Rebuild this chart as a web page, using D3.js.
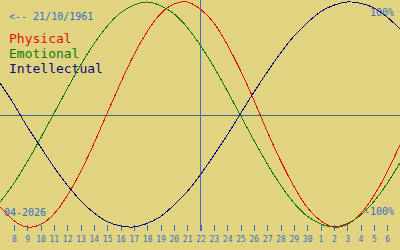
<!DOCTYPE html>
<html>
<head>
<meta charset="utf-8">
<script src="https://cdn.jsdelivr.net/npm/d3@7"></script>
<style>
  html, body { margin: 0; padding: 0; background: #e1d380; }
  svg { display: block; }
  text { font-family: "DejaVu Sans Mono", monospace; }
</style>
</head>
<body>
<svg id="chart"></svg>
<script>
// biorhythm values, one per day, from 7 April 2026 to 7 May 2026
const startDay = "2026-04-07";
const physical = [-0.82, -0.94, -1.00, -0.98, -0.89, -0.73, -0.52, -0.27, 0.00, 0.27,
    0.52, 0.73, 0.89, 0.98, 1.00, 0.94, 0.82, 0.63, 0.40, 0.14,
    -0.14, -0.40, -0.63, -0.82, -0.94, -1.00, -0.98, -0.89, -0.73, -0.52, -0.27];
const emotional = [-0.78, -0.62, -0.43, -0.22, 0.00, 0.22, 0.43, 0.62, 0.78, 0.90,
    0.97, 1.00, 0.97, 0.90, 0.78, 0.62, 0.43, 0.22, 0.00, -0.22,
    -0.43, -0.62, -0.78, -0.90, -0.97, -1.00, -0.97, -0.90, -0.78, -0.62, -0.43];
const intellectual = [0.28, 0.10, -0.10, -0.28, -0.46, -0.62, -0.76, -0.87, -0.95, -0.99,
    -1.00, -0.97, -0.91, -0.81, -0.69, -0.54, -0.37, -0.19, 0.00, 0.19,
    0.37, 0.54, 0.69, 0.81, 0.91, 0.97, 1.00, 0.99, 0.95, 0.87, 0.76];

const seriesNames = ["Physical", "Emotional", "Intellectual"];
const seriesColors = ["#e01010", "#0a7a0a", "#0a0a80"];
const today = "2026-04-22";
const birthLabel = "<-- 21/10/1961";
const monthLabel = "04-2026";

const width = 400, height = 250;
const parse = d3.timeParse("%Y-%m-%d");
const start = parse(startDay);
const end = d3.timeDay.offset(start, physical.length - 1);

const x = d3.scaleTime().domain([start, end]).range([0, width]);
const y = d3.scaleLinear().domain([-1, 1]).range([227, 2]);

const svg = d3.select("#chart")
    .attr("width", width)
    .attr("height", height)
    .attr("viewBox", [0, 0, width, height]);

svg.append("rect")
    .attr("width", width)
    .attr("height", height)
    .attr("fill", "#e1d380");

// zero line
svg.append("line")
    .attr("x1", 0).attr("x2", width)
    .attr("y1", Math.round(y(0)) + 0.5).attr("y2", Math.round(y(0)) + 0.5)
    .attr("stroke", "#3a6494")
    .attr("shape-rendering", "crispEdges");

// today line
const xt = Math.round(x(parse(today))) + 0.5;
svg.append("line")
    .attr("x1", xt).attr("x2", xt)
    .attr("y1", 0).attr("y2", 231)
    .attr("stroke", "#3070c8")
    .attr("shape-rendering", "crispEdges");

// day ticks
const xAxis = svg.append("g")
    .attr("transform", "translate(0.5,224.5)")
    .call(d3.axisBottom(x)
        .tickValues(d3.timeDay.range(d3.timeDay.offset(start, 1), end))
        .tickFormat(d3.timeFormat("%-d"))
        .tickSize(6)
        .tickPadding(5.5));
xAxis.select(".domain").remove();
xAxis.selectAll(".tick line")
    .attr("stroke", "#3070c8")
    .attr("shape-rendering", "crispEdges");
xAxis.selectAll(".tick text")
    .attr("fill", "#3070c8")
    .style("font-family", "'DejaVu Sans Mono', monospace")
    .style("font-size", "8px");

// labels
svg.append("text")
    .attr("x", 9).attr("y", 20)
    .attr("fill", "#3070c8")
    .style("font-size", "10px")
    .text(birthLabel);

seriesNames.forEach((name, i) => {
    svg.append("text")
        .attr("x", 9).attr("y", 43 + i * 15)
        .attr("fill", seriesColors[i])
        .style("font-size", "13px")
        .text(name);
});

svg.append("text")
    .attr("x", 394).attr("y", 16)
    .attr("text-anchor", "end")
    .attr("fill", "#3070c8")
    .style("font-size", "10px")
    .text("100%");

svg.append("text")
    .attr("x", 394).attr("y", 215)
    .attr("text-anchor", "end")
    .attr("fill", "#3070c8")
    .style("font-size", "10px")
    .text("-100%");

svg.append("text")
    .attr("x", 4).attr("y", 216)
    .attr("fill", "#3070c8")
    .style("font-size", "10px")
    .text(monthLabel);

// curves
const line = d3.line()
    .x((d, i) => x(d3.timeDay.offset(start, i)))
    .y(d => y(d))
    .curve(d3.curveNatural);

[physical, emotional, intellectual].forEach((values, i) => {
    svg.append("path")
        .attr("fill", "none")
        .attr("stroke", seriesColors[i])
        .attr("stroke-width", 1)
        .attr("shape-rendering", "crispEdges")
        .attr("d", line(values));
});
</script>
</body>
</html>
